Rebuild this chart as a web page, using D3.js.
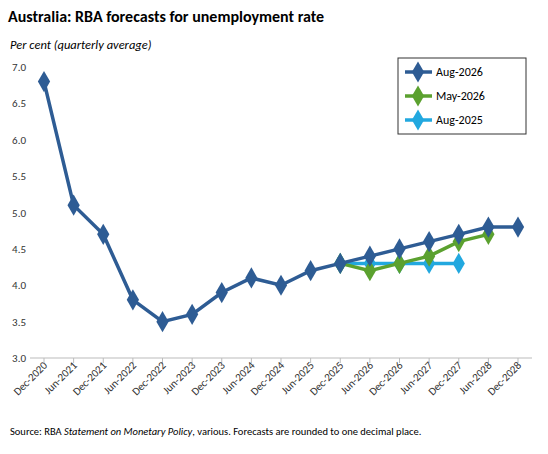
<!DOCTYPE html>
<html><head><meta charset="utf-8">
<script src="https://cdn.jsdelivr.net/npm/d3@7"></script>
<style>body{margin:0;background:#fff}svg{font-family:Calibri,"Liberation Sans",Carlito,Arial,sans-serif}</style>
</head><body><svg id="c" width="548" height="454"></svg>
<script>
const categories=["Dec-2020","Jun-2021","Dec-2021","Jun-2022","Dec-2022","Jun-2023","Dec-2023","Jun-2024","Dec-2024","Jun-2025","Dec-2025","Jun-2026","Dec-2026","Jun-2027","Dec-2027","Jun-2028","Dec-2028"];
const aug2026=[6.8,5.1,4.7,3.8,3.5,3.6,3.9,4.1,4.0,4.2,4.3,4.4,4.5,4.6,4.7,4.8,4.8];
const may2026=[null,null,null,null,null,null,null,null,null,null,4.3,4.2,4.3,4.4,4.6,4.7,null];
const aug2025=[null,null,null,null,null,null,null,null,null,null,4.3,4.3,4.3,4.3,4.3,null,null];
const yTicks=[3.0,3.5,4.0,4.5,5.0,5.5,6.0,6.5,7.0];
const series=[{name:"Aug-2026",data:aug2026,color:"#2E5C94"},{name:"May-2026",data:may2026,color:"#5BA12F"},{name:"Aug-2025",data:aug2025,color:"#22A8DF"}];
const svg=d3.select("#c");
const x=d3.scalePoint().domain(categories).range([44,518]);
const y=d3.scaleLinear().domain([3,7]).range([358,67]);
svg.append("text").attr("x",8).attr("y",22).attr("font-size",16).attr("font-weight","bold").text("Australia: RBA forecasts for unemployment rate");
svg.append("text").attr("x",10).attr("y",49).attr("font-size",12.5).attr("font-style","italic").text("Per cent (quarterly average)");
yTicks.forEach(t=>svg.append("text").attr("x",26).attr("y",y(t)+4).attr("text-anchor","end").attr("font-size",11).attr("fill","#333").text(t.toFixed(1)));
svg.append("line").attr("x1",30).attr("x2",532).attr("y1",358).attr("y2",358).attr("stroke","#bbb");
categories.forEach(c=>{
 svg.append("line").attr("x1",x(c)).attr("x2",x(c)).attr("y1",358).attr("y2",363).attr("stroke","#bbb");
 svg.append("text").attr("transform",`translate(${x(c)+4},${366}) rotate(-45)`).attr("text-anchor","end").attr("font-size",11).attr("fill","#333").text(c);
});
const line=d3.line().defined(d=>d.v!=null).x(d=>x(d.c)).y(d=>y(d.v));
const sym=d3.symbol().type(d3.symbolDiamond).size(130);
series.slice().reverse().forEach(s=>{
 const pts=s.data.map((v,i)=>({c:categories[i],v}));
 svg.append("path").attr("d",line(pts)).attr("fill","none").attr("stroke",s.color).attr("stroke-width",3.5);
 pts.filter(p=>p.v!=null).forEach(p=>svg.append("path").attr("d",sym()).attr("transform",`translate(${x(p.c)},${y(p.v)})`).attr("fill",s.color));
});
svg.append("rect").attr("x",398).attr("y",58).attr("width",128).attr("height",76).attr("fill","#fff").attr("stroke","#333");
series.forEach((s,i)=>{
 const yy=72+i*24;
 svg.append("line").attr("x1",405).attr("x2",432).attr("y1",yy).attr("y2",yy).attr("stroke",s.color).attr("stroke-width",3.5);
 svg.append("path").attr("d",sym()).attr("transform",`translate(418,${yy})`).attr("fill",s.color);
 svg.append("text").attr("x",436).attr("y",yy+4).attr("font-size",12).text(s.name);
});
const src=svg.append("text").attr("x",10).attr("y",435).attr("font-size",10.5);
src.append("tspan").text("Source: RBA ");
src.append("tspan").attr("font-style","italic").text("Statement on Monetary Policy");
src.append("tspan").text(", various. Forecasts are rounded to one decimal place.");
</script></body></html>
